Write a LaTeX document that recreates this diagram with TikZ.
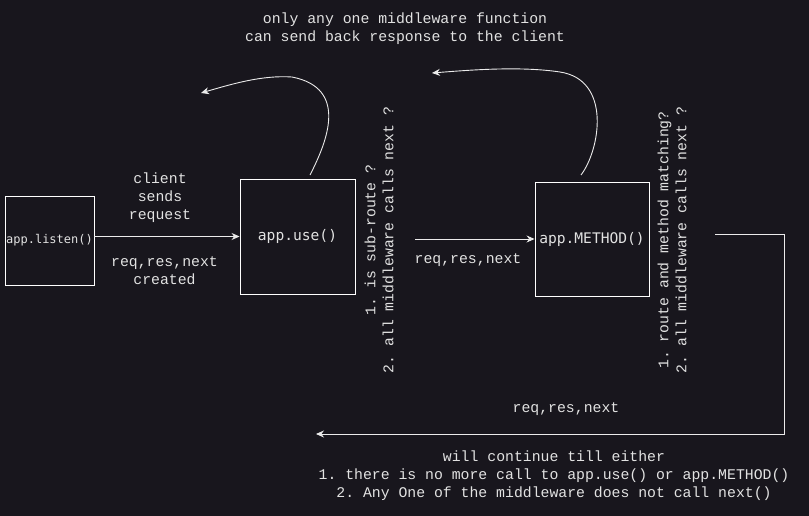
\documentclass[tikz,border=0pt]{standalone}
\usepackage{fontspec}
\setmainfont{Liberation Mono}
\newfontfamily\boxfont{DejaVu Sans Mono}
\usetikzlibrary{arrows.meta}
\definecolor{bg}{RGB}{24,22,29}
\definecolor{fg}{RGB}{226,226,226}
\frenchspacing
\begin{document}
\begin{tikzpicture}[x=1pt,y=-1pt,
  txt/.style={text=fg,font=\frenchspacing\fontsize{14.8}{18}\selectfont,align=center,inner sep=0pt},
  fbox/.style={draw=white,line width=0.9pt,text=fg,inner sep=0pt},
  conn/.style={draw=white!92!black,line width=0.9pt},
  arr/.style={conn,-{Stealth[length=8pt,width=7pt]}}]
\fill[bg] (0,0) rectangle (809,516);
\useasboundingbox (0,0) rectangle (809,516);
% boxes
\node[fbox,minimum width=89pt,minimum height=89pt,font=\boxfont\fontsize{12}{14}\selectfont] (listen) at (49.5,240.5) {app.listen()};
\node[fbox,minimum width=115pt,minimum height=115pt,font=\boxfont\fontsize{14.6}{18}\selectfont] (use) at (297.5,236.5) {app.use()};
\node[fbox,minimum width=114pt,minimum height=114pt,font=\boxfont\fontsize{14.6}{18}\selectfont] (method) at (592,239) {app.METHOD()};
% texts
\node[txt] (top) at (405,29) {only any one middleware function\\can send back response to the client};
\node[txt] (client) at (160,197.5) {client\\sends\\request};
\node[txt] (created) at (164.5,271) {req,res,next\\created};
\node[txt,rotate=90] (cond1) at (379,240) {1. is sub-route ?\\2. all middleware calls next ?};
\node[txt,rotate=90] (cond2) at (672,240) {1. route and method matching?\\2. all middleware calls next ?};
\node[txt] (rrn1) at (468,260) {req,res,next};
\node[txt] (rrn2) at (566,409) {req,res,next};
\node[txt] (bottom) at (554,476) {will continue till either\\1. there is no more call to app.use() or app.METHOD()\\2. Any One of the middleware does not call next()};
% coordinates
\coordinate (s1) at (415,239);
\coordinate (r0) at (715,234);
\coordinate (r1) at (784,234);
\coordinate (r2) at (784,434);
\coordinate (r3) at (316,434);
\coordinate (u0) at (310,175);
\coordinate (u1) at (201,93);
\coordinate (m0) at (581,175);
\coordinate (m1) at (432,73);
% connectors
\draw[arr] (listen.east |- use.west) -- (use.west);
\draw[arr] (s1) -- (method.west);
\draw[arr] (r0) -- (r1) -- (r2) -- (r3);
\draw[arr] (u0) .. controls (328,140) and (348,88) .. (292,77) .. controls (262,75) and (232,84) .. (u1);
\draw[arr] (m0) .. controls (600,150) and (612,80) .. (560,72) .. controls (520,66) and (470,70) .. (m1);
\end{tikzpicture}
\end{document}
